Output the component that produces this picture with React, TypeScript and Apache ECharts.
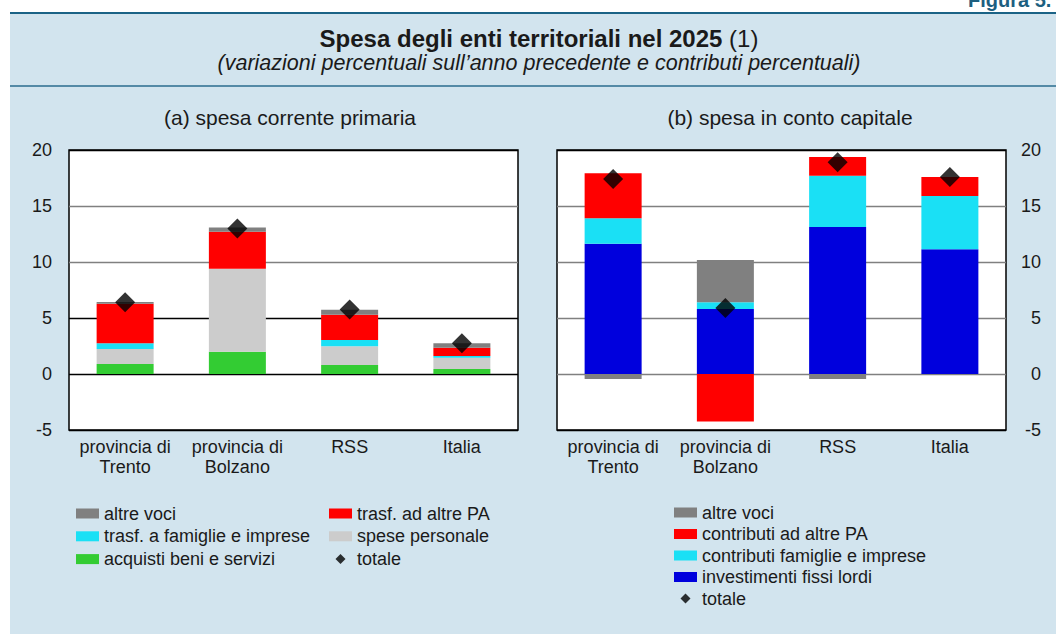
import React, { useEffect, useRef } from "react";
import * as echarts from "echarts";

const categories = ["provincia di\nTrento", "provincia di\nBolzano", "RSS", "Italia"];

// (a) spesa corrente primaria
const aAcquisti = [0.89, 1.99, 0.8, 0.45];
const aPersonale = [1.34, 7.41, 1.67, 1.01];
const aFamiglie = [0.51, 0.0, 0.57, 0.15];
const aAltrePA = [3.54, 3.31, 2.26, 0.74];
const aAltreVoci = [0.15, 0.36, 0.44, 0.39];
const aTotale = [6.4, 13.0, 5.75, 2.75];

// (b) spesa in conto capitale
const bInvestimenti = [11.64, 5.8, 13.13, 11.13];
const bFamiglie = [2.26, 0.6, 4.58, 4.76];
const bAltrePA = [4.02, -4.23, 1.67, 1.7];
const bAltreVoci = [-0.45, 3.78, -0.45, 0.0];
const bTotale = [17.4, 5.9, 18.9, 17.6];

const yMin = -5;
const yMax = 20;
const yStep = 5;

const FONT = "'Liberation Sans', Arial, Helvetica, sans-serif";
const TXT = "#1a1a1a";

const C_ALTRE = "#808080";
const C_RED = "#ff0000";
const C_CYAN = "#1ae0f5";
const C_GREY = "#cccccc";
const C_GREEN = "#33cc33";
const C_BLUE = "#0000dd";

export default function App() {
  const ref = useRef<HTMLDivElement>(null);

  useEffect(() => {
    if (!ref.current) return;
    const chart = echarts.init(ref.current, null, { renderer: "svg" });

    const bar = (name: string, data: number[], color: string, idx: number) => ({
      name,
      type: "bar",
      stack: "s" + idx,
      xAxisIndex: idx,
      yAxisIndex: idx,
      data,
      barWidth: 57,
      itemStyle: { color },
      emphasis: { disabled: true },
    });
    const tot = (data: number[], idx: number) => ({
      name: "totale",
      type: "scatter",
      xAxisIndex: idx,
      yAxisIndex: idx,
      data,
      symbol: "diamond",
      symbolSize: 20,
      symbolKeepAspect: true,
      itemStyle: { color: "#000" },
      z: 10,
      emphasis: { disabled: true },
    });

    const xAxis = (idx: number) => ({
      type: "category",
      gridIndex: idx,
      data: categories,
      axisLine: { show: false },
      axisTick: { show: false },
      axisLabel: {
        fontSize: 18,
        lineHeight: 20,
        color: TXT,
        fontFamily: FONT,
        margin: 7,
        interval: 0,
      },
    });

    const yAxis = (idx: number, right: boolean, colors: string[]) => ({
      type: "value",
      gridIndex: idx,
      position: right ? "right" : "left",
      min: yMin,
      max: yMax,
      interval: yStep,
      axisLine: { show: false },
      axisTick: { show: false },
      axisLabel: {
        fontSize: 18,
        color: TXT,
        fontFamily: FONT,
        margin: right ? 35 : 17,
        align: "right",
      },
      splitLine: { show: true, lineStyle: { color: colors, width: 1.3 } },
    });

    const legendText = { fontSize: 18, color: TXT, fontFamily: FONT };
    const diamondIcon = "path://M5,0 L10,5 L5,10 L0,5 Z";

    chart.setOption({
      animation: false,
      backgroundColor: "transparent",
      textStyle: { fontFamily: FONT },
      graphic: [
        { type: "rect", shape: { x: 10, y: 12, width: 1046, height: 2 }, style: { fill: "#1b6386" } },
        { type: "rect", shape: { x: 10, y: 85.3, width: 1046, height: 1.4 }, style: { fill: "#2a6d8e" } },
        {
          type: "text",
          x: 968,
          y: 10,
          style: {
            text: "Figura 5.",
            fontSize: 20,
            fontWeight: "bold",
            fill: "#1d5f80",
            fontFamily: FONT,
            align: "left",
            verticalAlign: "bottom",
          },
        },
        {
          type: "text",
          x: 539,
          y: 38.5,
          style: {
            text: "{b|Spesa degli enti territoriali nel 2025}{n| (1)}",
            align: "center",
            verticalAlign: "middle",
            fill: TXT,
            fontFamily: FONT,
            rich: {
              b: { fontSize: 24, fontWeight: "bold", fill: TXT, fontFamily: FONT },
              n: { fontSize: 24, fill: TXT, fontFamily: FONT },
            },
          },
        },
        {
          type: "text",
          x: 539,
          y: 63,
          style: {
            text: "(variazioni percentuali sull\u2019anno precedente e contributi percentuali)",
            align: "center",
            verticalAlign: "middle",
            fontSize: 21.5,
            fontStyle: "italic",
            fill: TXT,
            fontFamily: FONT,
          },
        },
        {
          type: "text",
          x: 290,
          y: 117,
          style: {
            text: "(a) spesa corrente primaria",
            align: "center",
            verticalAlign: "middle",
            fontSize: 21,
            fill: TXT,
            fontFamily: FONT,
          },
        },
        {
          type: "text",
          x: 790,
          y: 117,
          style: {
            text: "(b) spesa in conto capitale",
            align: "center",
            verticalAlign: "middle",
            fontSize: 21,
            fill: TXT,
            fontFamily: FONT,
          },
        },
      ],
      grid: [
        {
          left: 69,
          right: 1056 - 518,
          top: 150,
          bottom: 634 - 430,
          show: true,
          backgroundColor: "#ffffff",
          borderColor: "#000000",
          borderWidth: 1.5,
        },
        {
          left: 557,
          right: 1056 - 1006,
          top: 150,
          bottom: 634 - 430,
          show: true,
          backgroundColor: "#ffffff",
          borderColor: "#000000",
          borderWidth: 1.5,
        },
      ],
      xAxis: [xAxis(0), xAxis(1)],
      yAxis: [
        yAxis(0, false, ["#000000", "#000000", "#000000", "#808080", "#808080", "#000000"]),
        yAxis(1, true, ["#000000", "#808080", "#808080", "#808080", "#808080", "#000000"]),
      ],
      legend: [
        {
          orient: "vertical",
          left: 76,
          top: 504.5,
          padding: 0,
          itemWidth: 23,
          itemHeight: 10,
          itemGap: 4.8,
          symbolKeepAspect: true,
          selectedMode: false,
          textStyle: legendText,
          data: [
            { name: "altre voci", icon: "rect" },
            { name: "trasf. a famiglie e imprese", icon: "rect" },
            { name: "acquisti beni e servizi", icon: "rect" },
          ],
        },
        {
          orient: "vertical",
          left: 329,
          top: 504.5,
          padding: 0,
          itemWidth: 23,
          itemHeight: 10,
          itemGap: 4.8,
          symbolKeepAspect: true,
          selectedMode: false,
          textStyle: legendText,
          data: [
            { name: "trasf. ad altre PA", icon: "rect" },
            { name: "spese personale", icon: "rect" },
            { name: "totale", icon: diamondIcon },
          ],
        },
        {
          orient: "vertical",
          left: 674,
          top: 503.5,
          padding: 0,
          itemWidth: 23,
          itemHeight: 10,
          itemGap: 3.5,
          symbolKeepAspect: true,
          selectedMode: false,
          textStyle: legendText,
          data: [
            { name: "altre voci", icon: "rect" },
            { name: "contributi ad altre PA", icon: "rect" },
            { name: "contributi famiglie e imprese", icon: "rect" },
            { name: "investimenti fissi lordi", icon: "rect" },
            { name: "totale", icon: diamondIcon },
          ],
        },
      ],
      series: [
        bar("acquisti beni e servizi", aAcquisti, C_GREEN, 0),
        bar("spese personale", aPersonale, C_GREY, 0),
        bar("trasf. a famiglie e imprese", aFamiglie, C_CYAN, 0),
        bar("trasf. ad altre PA", aAltrePA, C_RED, 0),
        bar("altre voci", aAltreVoci, C_ALTRE, 0),
        tot(aTotale, 0),
        bar("investimenti fissi lordi", bInvestimenti, C_BLUE, 1),
        bar("contributi famiglie e imprese", bFamiglie, C_CYAN, 1),
        bar("contributi ad altre PA", bAltrePA, C_RED, 1),
        bar("altre voci", bAltreVoci, C_ALTRE, 1),
        tot(bTotale, 1),
      ],
    });

    return () => chart.dispose();
  }, []);

  return (
    <div style={{ position: "absolute", left: 0, top: 0, width: 1056, height: 634, background: "#ffffff" }}>
      <div
        style={{
          position: "absolute",
          left: 10,
          top: 13,
          width: 1046,
          height: 621,
          background: "#d2e4ee",
        }}
      />
      <div ref={ref} style={{ position: "absolute", left: 0, top: 0, width: 1056, height: 634 }} />
    </div>
  );
}
